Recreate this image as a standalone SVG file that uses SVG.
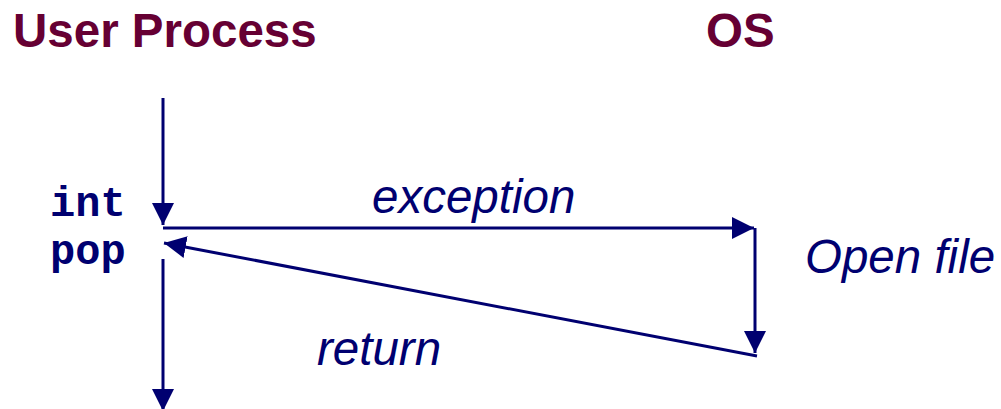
<svg xmlns="http://www.w3.org/2000/svg" width="1001" height="409" viewBox="0 0 1001 409">
<style>
.title{font-family:"Liberation Sans",Arial,sans-serif;font-weight:bold;font-size:47.5px;fill:#660033}
.lbl{font-family:"Liberation Sans",Arial,sans-serif;font-style:italic;font-size:47.5px;fill:#000070}
.code{font-family:"Liberation Mono","Courier New",monospace;font-weight:bold;font-size:42px;fill:#000070}
.ln{stroke:#000070;stroke-width:3;fill:none}
</style>
<defs>
<marker id="ah" viewBox="0 0 22 22" refX="22" refY="11" markerWidth="22" markerHeight="22" markerUnits="userSpaceOnUse" orient="auto">
<path d="M0,0 L22,11 L0,22 Z" fill="#000070"/>
</marker>
</defs>
<g id="user-process"><text class="title" x="13" y="47">User Process</text></g>
<g id="os"><text class="title" x="706" y="47">OS</text></g>
<g id="int-pop"><text class="code" x="50" y="216">int</text><text class="code" x="50" y="264">pop</text></g>
<g id="label-exception"><text class="lbl" x="372" y="213">exception</text></g>
<g id="label-open-file"><text class="lbl" x="805" y="273">Open file</text></g>
<g id="label-return"><text class="lbl" x="317" y="365">return</text></g>
<g id="connectors">
<line class="ln" x1="163" y1="98" x2="163" y2="225" marker-end="url(#ah)"/>
<line class="ln" x1="163" y1="228" x2="754" y2="228" marker-end="url(#ah)"/>
<line class="ln" x1="755" y1="228" x2="755" y2="353" marker-end="url(#ah)"/>
<line class="ln" x1="757" y1="356" x2="164" y2="243" marker-end="url(#ah)"/>
<line class="ln" x1="163" y1="259" x2="163" y2="411" marker-end="url(#ah)"/>
</g>
</svg>
